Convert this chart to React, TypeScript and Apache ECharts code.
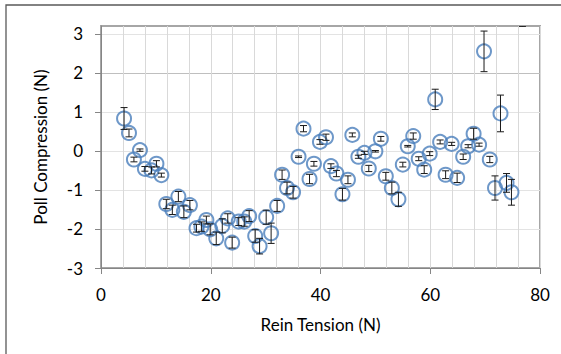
import React, { useEffect, useRef } from "react";
import * as echarts from "echarts";

const xValues = [
  4.2, 5.1, 6.0, 7.1, 8.0, 9.2, 10.1, 11.0, 11.9, 13.0, 14.1, 15.1, 16.2, 17.4, 18.3, 19.2, 19.9, 21.0,
  22.1, 23.1, 23.9, 25.1, 26.1, 27.0, 28.1, 28.9, 30.1, 31.0, 32.1, 33.0, 33.9, 35.0, 36.0, 36.9, 38.0,
  38.8, 39.9, 41.0, 41.9, 42.9, 44.0, 45.0, 45.8, 46.9, 48.0, 48.8, 50.0, 51.0, 51.9, 53.0, 54.2, 55.0,
  55.9, 56.9, 57.9, 58.9, 59.9, 60.9, 61.8, 62.8, 63.9, 64.9, 66.0, 66.9, 67.9, 68.9, 69.8, 70.85, 71.8,
  72.8, 73.9, 74.8, 76.8,
];
const yValues = [
  0.83, 0.46, -0.22, 0.02, -0.46, -0.5, -0.33, -0.62, -1.36, -1.51, -1.17, -1.56, -1.39, -1.98, -1.94,
  -1.77, -2.01, -2.24, -1.92, -1.73, -2.35, -1.81, -1.81, -1.67, -2.18, -2.44, -1.7, -2.11, -1.41, -0.61,
  -0.95, -1.06, -0.15, 0.57, -0.72, -0.33, 0.23, 0.35, -0.39, -0.58, -1.11, -0.74, 0.41, -0.15, -0.05,
  -0.45, -0.01, 0.31, -0.65, -0.95, -1.24, -0.35, 0.12, 0.38, -0.2, -0.48, -0.07, 1.32, 0.23, -0.61, 0.18,
  -0.69, -0.15, 0.12, 0.44, 0.16, 2.55, -0.22, -0.95, 0.96, -0.82, -1.06, 3.55,
];
const errValues = [
  0.28, 0.1, 0.06, 0.03, 0.06, 0.09, 0.08, 0.05, 0.12, 0.12, 0.13, 0.15, 0.12, 0.1, 0.12, 0.1, 0.14, 0.16,
  0.18, 0.12, 0.14, 0.1, 0.12, 0.14, 0.16, 0.2, 0.18, 0.26, 0.14, 0.12, 0.15, 0.15, 0.02, 0.08, 0.12, 0.06,
  0.06, 0.08, 0.06, 0.08, 0.15, 0.1, 0.05, 0.04, 0.04, 0.08, 0.02, 0.06, 0.1, 0.15, 0.18, 0.06, 0.02, 0.08,
  0.05, 0.1, 0.05, 0.26, 0.05, 0.1, 0.04, 0.12, 0.07, 0.04, 0.14, 0.04, 0.52, 0.08, 0.31, 0.47, 0.24, 0.33,
  0.36,
];
const xTickLabels = [0, 20, 40, 60, 80];
const yTickLabels = [-3, -2, -1, 0, 1, 2, 3];

const FONT = "Lato";
const LABEL_SIZE = 17;
const NAME_SIZE = 17;

export default function App() {
  const ref = useRef<HTMLDivElement>(null);
  useEffect(() => {
    if (!ref.current) return;
    const chart = echarts.init(ref.current, null, { renderer: "svg" });
    const pts = xValues.map((x, i) => [x, yValues[i]]);
    const errs = xValues.map((x, i) => [x, yValues[i], errValues[i]]);
    chart.setOption({
      animation: false,
      backgroundColor: "#ffffff",
      textStyle: { fontFamily: FONT },
      graphic: [
        {
          type: "rect",
          shape: { x: 6, y: 5, width: 700, height: 500 },
          style: { fill: "none", stroke: "#595959", lineWidth: 1.3 },
          silent: true,
        },
      ],
      grid: {
        left: 101,
        top: 26,
        right: 21,
        bottom: 86,
        show: true,
        borderColor: "#a6a6a6",
        borderWidth: 2,
        backgroundColor: "transparent",
        z: 0,
      },
      xAxis: {
        type: "value",
        min: 0,
        max: 80,
        interval: 20,
        name: "Rein Tension (N)",
        nameLocation: "middle",
        nameGap: 48,
        nameTextStyle: { fontSize: NAME_SIZE, color: "#000", fontFamily: FONT },
        axisLine: { show: true, onZero: false, lineStyle: { color: "#868686", width: 1 } },
        axisTick: { show: true, inside: false, length: 6, lineStyle: { color: "#868686" }, customValues: xTickLabels },
        axisLabel: { fontSize: LABEL_SIZE, color: "#000", margin: 18, fontFamily: FONT, customValues: xTickLabels },
        splitLine: { show: true, lineStyle: { color: "#d9d9d9", width: 1 } },
        minorTick: { show: false, splitNumber: 5 },
        minorSplitLine: { show: true, lineStyle: { color: "#d9d9d9", width: 1 } },
      },
      yAxis: {
        type: "value",
        min: -3,
        max: 3.2,
        interval: 0.2,
        name: "Poll Compression (N)",
        nameLocation: "middle",
        nameGap: 52,
        nameRotate: 90,
        nameTextStyle: { fontSize: NAME_SIZE, color: "#000", fontFamily: FONT },
        axisLine: { show: true, onZero: false, lineStyle: { color: "#868686", width: 1 } },
        axisTick: { show: true, inside: false, length: 6, lineStyle: { color: "#868686" }, customValues: yTickLabels },
        axisLabel: {
          fontSize: LABEL_SIZE,
          color: "#000",
          margin: 18,
          fontFamily: FONT,
          customValues: yTickLabels,
          formatter: (v: number) => String(Math.round(v)),
        },
        splitLine: {
          show: true,
          lineStyle: { color: ["#bfbfbf", "#e3e3e3", "#e3e3e3", "#e3e3e3", "#e3e3e3"], width: 1 },
        },
      },
      series: [
        {
          type: "scatter",
          data: pts,
          symbol: "circle",
          symbolSize: 14,
          clip: true,
          itemStyle: { color: "rgba(0,0,0,0)", borderColor: "#4a7ebb", borderWidth: 2 },
          z: 3,
        },
        {
          type: "custom",
          data: errs,
          clip: true,
          encode: { x: 0, y: 1 },
          z: 4,
          renderItem: (params: any, api: any) => {
            const x = api.value(0);
            const y = api.value(1);
            const e = api.value(2);
            const top = api.coord([x, y + e]);
            const bot = api.coord([x, y - e]);
            const hw = 3.5;
            const st = { stroke: "#1a1a1a", lineWidth: 1 };
            return {
              type: "group",
              children: [
                { type: "line", shape: { x1: top[0], y1: top[1], x2: bot[0], y2: bot[1] }, style: st },
                { type: "line", shape: { x1: top[0] - hw, y1: top[1], x2: top[0] + hw, y2: top[1] }, style: st },
                { type: "line", shape: { x1: bot[0] - hw, y1: bot[1], x2: bot[0] + hw, y2: bot[1] }, style: st },
              ],
            };
          },
        },
      ],
    });
    return () => chart.dispose();
  }, []);
  return (
    <div
      ref={ref}
      style={{ position: "absolute", left: 0, top: 0, width: 561, height: 354 }}
    />
  );
}
